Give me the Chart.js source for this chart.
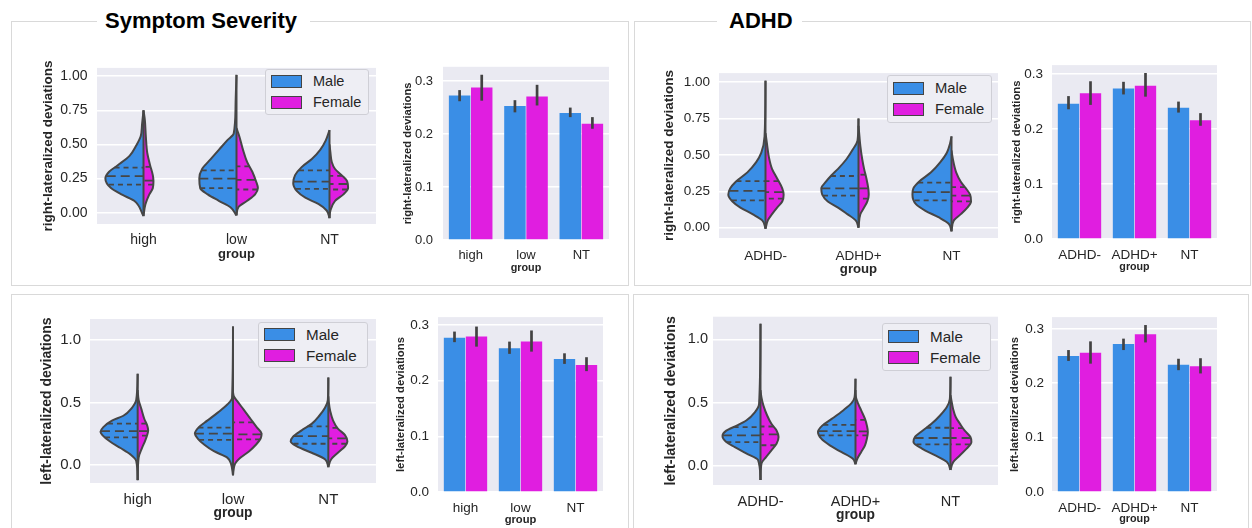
<!DOCTYPE html>
<html>
<head>
<meta charset="utf-8">
<script src="https://cdn.jsdelivr.net/npm/chart.js@4.4.1/dist/chart.umd.min.js"></script>
<style>
body { margin: 0; background: #fff; font-family: 'Liberation Sans', Arial, sans-serif; }
#page { position: relative; width: 1252px; height: 528px; overflow: hidden; background: #fff; }
.panel { position: absolute; border: 1px solid #d9d9d9; box-sizing: border-box; }
.ptitle { position: absolute; background: #fff; font-weight: bold; font-size: 22px; line-height: 22px; color: #000; box-sizing: border-box; }
.holder { position: absolute; }
.legend { position: absolute; box-sizing: border-box; background: #eeeef4; border: 1px solid #cfcfd6; border-radius: 3px; color: #262626; }
.patch { position: absolute; left: 5px; width: 31px; height: 13px; box-sizing: border-box; border: 1px solid #444; }
.ltext { position: absolute; left: 47px; height: 21px; line-height: 21px; white-space: nowrap; }
</style>
</head>
<body>
<div id="page">
  <div class="panel" style="left:11px;top:21px;width:618px;height:265px;"></div>
  <div class="panel" style="left:634px;top:21px;width:617px;height:265px;"></div>
  <div class="panel" style="left:11px;top:294px;width:618px;height:260px;"></div>
  <div class="panel" style="left:633px;top:294px;width:616px;height:260px;"></div>
  <div class="ptitle" style="left:97px;top:10px;width:213px;padding-left:8px;">Symptom Severity</div>
  <div class="ptitle" style="left:717px;top:10px;width:85px;padding-left:12px;">ADHD</div>
</div>
<script>
const sevGroups = ['high', 'low', 'NT'];
const adhdGroups = ['ADHD-', 'ADHD+', 'NT'];
const sexes = ['Male', 'Female'];

const violinTicksRight = [0, 0.25, 0.5, 0.75, 1.0];
const violinTicksLeft = [0, 0.5, 1.0];
const barTicks = [0, 0.1, 0.2, 0.3];

// violin outlines, [value, half width] from lower tip to upper tip
const sevRightMale = [
  [[-0.025,0],[0.087,0.1],[0.13,0.225],[0.18,0.35],[0.25,0.41],[0.3,0.37],[0.346,0.28],[0.416,0.15],[0.49,0.08],[0.56,0.03],[0.65,0.015],[0.75,0]],
  [[-0.02,0],[0.04,0.065],[0.087,0.19],[0.134,0.31],[0.18,0.39],[0.25,0.4],[0.32,0.37],[0.39,0.28],[0.46,0.19],[0.53,0.1],[0.58,0.03],[0.79,0.01],[1.01,0]],
  [[-0.04,0],[0.016,0.03],[0.064,0.12],[0.11,0.26],[0.158,0.35],[0.216,0.39],[0.275,0.37],[0.334,0.3],[0.393,0.19],[0.46,0.1],[0.53,0.04],[0.605,0]]
];
const sevRightFemale = [
  [[-0.025,0],[0.06,0.02],[0.13,0.06],[0.18,0.1],[0.23,0.107],[0.275,0.1],[0.35,0.07],[0.44,0.04],[0.56,0.025],[0.675,0.015],[0.75,0]],
  [[-0.02,0],[0.04,0.02],[0.087,0.115],[0.134,0.2],[0.18,0.23],[0.23,0.21],[0.3,0.17],[0.37,0.115],[0.46,0.07],[0.56,0.03],[0.6,0.01],[0.62,0]],
  [[-0.04,0],[0.016,0.01],[0.087,0.06],[0.134,0.15],[0.18,0.2],[0.23,0.19],[0.275,0.13],[0.32,0.06],[0.37,0.025],[0.44,0.01],[0.5,0]]
];
const sevRightMaleQuart = [[0.205,0.268,0.33],[0.18,0.25,0.31],[0.174,0.228,0.31]];
const sevRightFemaleQuart = [[0.205,0.235,0.336],[0.17,0.24,0.34],[0.17,0.21,0.27]];

const adhdRightMale = [
  [[-0.007,0],[0.05,0.035],[0.093,0.14],[0.138,0.27],[0.18,0.355],[0.227,0.4],[0.27,0.38],[0.316,0.32],[0.38,0.195],[0.45,0.1],[0.515,0.045],[0.627,0.01],[1.01,0]],
  [[0,0],[0.05,0.03],[0.093,0.12],[0.138,0.22],[0.18,0.33],[0.227,0.39],[0.27,0.4],[0.316,0.35],[0.36,0.29],[0.404,0.22],[0.47,0.13],[0.538,0.06],[0.6,0.01],[0.75,0]],
  [[-0.025,0],[0.027,0.03],[0.07,0.135],[0.116,0.28],[0.16,0.38],[0.227,0.42],[0.27,0.41],[0.316,0.35],[0.38,0.22],[0.45,0.12],[0.515,0.05],[0.58,0.015],[0.627,0]]
];
const adhdRightFemale = [
  [[-0.007,0],[0.05,0.025],[0.093,0.07],[0.138,0.125],[0.18,0.18],[0.227,0.195],[0.27,0.18],[0.338,0.125],[0.404,0.07],[0.49,0.035],[0.58,0.015],[0.65,0]],
  [[0,0],[0.093,0.02],[0.138,0.06],[0.18,0.095],[0.227,0.11],[0.27,0.105],[0.338,0.085],[0.404,0.06],[0.47,0.04],[0.56,0.02],[0.627,0.01],[0.7,0]],
  [[-0.025,0],[0.05,0.025],[0.093,0.1],[0.138,0.17],[0.18,0.21],[0.227,0.2],[0.27,0.155],[0.316,0.1],[0.38,0.05],[0.47,0.015],[0.53,0]]
];
const adhdRightMaleQuart = [[0.187,0.253,0.32],[0.22,0.27,0.355],[0.187,0.244,0.31]];
const adhdRightFemaleQuart = [[0.2,0.244,0.32],[0.2,0.27,0.364],[0.18,0.22,0.278]];

const sevLeftMale = [
  [[-0.124,0],[0.03,0.015],[0.083,0.077],[0.134,0.18],[0.186,0.29],[0.238,0.37],[0.264,0.39],[0.302,0.36],[0.354,0.27],[0.393,0.15],[0.457,0.06],[0.52,0.015],[0.73,0]],
  [[-0.085,0],[0.005,0.02],[0.057,0.06],[0.108,0.2],[0.16,0.3],[0.21,0.37],[0.25,0.4],[0.3,0.36],[0.354,0.27],[0.418,0.16],[0.483,0.06],[0.535,0.01],[1.11,0]],
  [[-0.02,0],[0.044,0.035],[0.096,0.175],[0.147,0.33],[0.186,0.395],[0.225,0.37],[0.276,0.28],[0.328,0.175],[0.393,0.095],[0.457,0.035],[0.52,0.005],[0.7,0]]
];
const sevLeftFemale = [
  [[-0.124,0],[0.057,0.01],[0.134,0.045],[0.186,0.075],[0.238,0.1],[0.276,0.11],[0.315,0.1],[0.367,0.07],[0.444,0.04],[0.52,0.01],[0.6,0]],
  [[-0.085,0],[0.005,0.02],[0.057,0.08],[0.108,0.17],[0.16,0.24],[0.21,0.29],[0.25,0.3],[0.3,0.25],[0.367,0.185],[0.444,0.11],[0.51,0.045],[0.548,0.01],[0.58,0]],
  [[-0.02,0],[0.044,0.03],[0.096,0.1],[0.147,0.175],[0.186,0.2],[0.238,0.175],[0.29,0.1],[0.354,0.05],[0.43,0.02],[0.5,0.005],[0.55,0]]
];
const sevLeftMaleQuart = [[0.22,0.27,0.33],[0.2,0.25,0.297],[0.168,0.23,0.307]];
const sevLeftFemaleQuart = [[0.233,0.27,0.33],[0.204,0.243,0.34],[0.168,0.212,0.295]];

const adhdLeftMale = [
  [[-0.11,0],[0.047,0.025],[0.1,0.15],[0.15,0.27],[0.19,0.36],[0.238,0.4],[0.28,0.36],[0.32,0.25],[0.36,0.15],[0.425,0.06],[0.49,0.015],[1.125,0]],
  [[0.015,0],[0.06,0.03],[0.112,0.15],[0.164,0.27],[0.217,0.36],[0.27,0.395],[0.32,0.35],[0.373,0.25],[0.44,0.13],[0.5,0.04],[0.543,0.01],[0.69,0]],
  [[-0.03,0],[0.034,0.04],[0.086,0.165],[0.138,0.3],[0.19,0.39],[0.23,0.375],[0.28,0.295],[0.334,0.2],[0.4,0.11],[0.465,0.04],[0.53,0.007],[0.705,0]]
];
const adhdLeftFemale = [
  [[-0.11,0],[0.02,0.01],[0.073,0.06],[0.125,0.115],[0.178,0.17],[0.23,0.19],[0.28,0.17],[0.334,0.115],[0.4,0.07],[0.48,0.03],[0.543,0.01],[0.6,0]],
  [[0.015,0],[0.06,0.02],[0.112,0.06],[0.164,0.1],[0.217,0.12],[0.27,0.13],[0.32,0.12],[0.373,0.1],[0.44,0.06],[0.49,0.03],[0.543,0.005],[0.6,0]],
  [[-0.03,0],[0.034,0.03],[0.086,0.1],[0.138,0.17],[0.19,0.22],[0.23,0.21],[0.28,0.15],[0.334,0.1],[0.386,0.056],[0.45,0.028],[0.517,0.01],[0.56,0]]
];
const adhdLeftMaleQuart = [[0.19,0.243,0.308],[0.243,0.277,0.326],[0.172,0.222,0.303]];
const adhdLeftFemaleQuart = [[0.165,0.25,0.313],[0.243,0.274,0.366],[0.172,0.222,0.3]];

// bar means with error bar ends
const sevRightMaleMean = [0.273, 0.253, 0.240];
const sevRightMaleLo = [0.262, 0.241, 0.232];
const sevRightMaleHi = [0.283, 0.264, 0.250];
const sevRightFemaleMean = [0.288, 0.271, 0.2195];
const sevRightFemaleLo = [0.263, 0.254, 0.210];
const sevRightFemaleHi = [0.312, 0.293, 0.232];

const adhdRightMaleMean = [0.246, 0.274, 0.239];
const adhdRightMaleLo = [0.236, 0.263, 0.230];
const adhdRightMaleHi = [0.260, 0.286, 0.250];
const adhdRightFemaleMean = [0.265, 0.279, 0.216];
const adhdRightFemaleLo = [0.244, 0.259, 0.206];
const adhdRightFemaleHi = [0.287, 0.302, 0.229];

const sevLeftMaleMean = [0.277, 0.258, 0.239];
const sevLeftMaleLo = [0.269, 0.248, 0.230];
const sevLeftMaleHi = [0.288, 0.270, 0.249];
const sevLeftFemaleMean = [0.279, 0.270, 0.228];
const sevLeftFemaleLo = [0.261, 0.252, 0.217];
const sevLeftFemaleHi = [0.297, 0.290, 0.242];

const adhdLeftMaleMean = [0.250, 0.272, 0.234];
const adhdLeftMaleLo = [0.241, 0.261, 0.224];
const adhdLeftMaleHi = [0.261, 0.282, 0.245];
const adhdLeftFemaleMean = [0.256, 0.290, 0.231];
const adhdLeftFemaleLo = [0.236, 0.275, 0.218];
const adhdLeftFemaleHi = [0.277, 0.307, 0.246];

const maleColor = '#3a8ee6';
const femaleColor = '#e01ee0';
const edge = '#464646';
const textColor = '#262626';

Chart.defaults.font.family = "'Liberation Sans', Arial, sans-serif";
Chart.defaults.color = textColor;

const page = document.getElementById('page');

const plotBg = {
  id: 'plotBg',
  beforeDraw(chart) {
    const { ctx, chartArea: a } = chart;
    ctx.save();
    ctx.fillStyle = '#eaeaf2';
    ctx.fillRect(a.left, a.top, a.right - a.left, a.bottom - a.top);
    ctx.restore();
  }
};

const errBars = {
  id: 'errBars',
  afterDatasetsDraw(chart) {
    const ctx = chart.ctx, y = chart.scales.y;
    ctx.save();
    ctx.strokeStyle = '#424242';
    ctx.lineWidth = 2.7;
    chart.data.datasets.forEach((ds, i) => {
      chart.getDatasetMeta(i).data.forEach((bar, j) => {
        ctx.beginPath();
        ctx.moveTo(bar.x, y.getPixelForValue(ds.errLo[j]));
        ctx.lineTo(bar.x, y.getPixelForValue(ds.errHi[j]));
        ctx.stroke();
      });
    });
    ctx.restore();
  }
};

function makeHolder(g) {
  const b = g.box;
  const yLh = g.yTitleSize * 1.2, xLh = g.xTitleSize * 1.2, tLh = g.tickSize * 1.2;
  const left = Math.floor(g.yTitleX - yLh / 2 - 2);
  const top = b.t - 12;
  const right = b.r + 12;
  const xH = Math.ceil(g.xTitleY + xLh / 2 + 2 - b.b);
  const width = right - left, height = b.b + xH - top;
  const div = document.createElement('div');
  div.className = 'holder';
  div.style.left = left + 'px';
  div.style.top = top + 'px';
  const cv = document.createElement('canvas');
  cv.width = width; cv.height = height;
  cv.style.width = width + 'px'; cv.style.height = height + 'px';
  div.appendChild(cv);
  page.appendChild(div);
  return {
    canvas: cv,
    yW: b.l - left,
    xH: xH,
    yTitlePad: g.yTitleX - left - yLh / 2,
    xTitlePad: b.b + xH - g.xTitleY - xLh / 2,
    xTickPad: Math.max(0, g.xTickY - b.b - tLh * 0.9)
  };
}

function yAxis(h, g, ticks, digits, title) {
  return {
    type: 'linear', position: 'left', min: g.yMin, max: g.yMax,
    afterBuildTicks: s => { s.ticks = ticks.map(v => ({ value: v })); },
    afterFit: s => { s.width = h.yW; },
    grid: { color: '#ffffff', lineWidth: 1.5, drawTicks: false },
    border: { display: false },
    ticks: { padding: g.yTickPad, color: textColor, font: { size: g.tickSize }, callback: v => v.toFixed(digits) },
    title: { display: true, text: title, color: textColor, font: { size: g.yTitleSize, weight: 'bold' }, padding: { top: h.yTitlePad, bottom: 0 } }
  };
}

function xTitle(h, g) {
  return { display: true, text: 'group', color: textColor, font: { size: g.xTitleSize, weight: 'bold' }, padding: { top: 0, bottom: h.xTitlePad } };
}

function widthAt(prof, v) {
  for (let i = 1; i < prof.length; i++) {
    const [y0, w0] = prof[i - 1], [y1, w1] = prof[i];
    if (v >= y0 && v <= y1) return w0 + (w1 - w0) * (v - y0) / (y1 - y0);
  }
  return 0;
}

function violinSets(maleProf, femaleProf, maleQ, femaleQ) {
  const sets = [];
  [[maleProf, maleQ, -1, maleColor], [femaleProf, femaleQ, 1, femaleColor]].forEach(([profs, qs, side, color]) => {
    profs.forEach((prof, g) => {
      sets.push({
        data: prof.map(([v, w]) => ({ x: g + side * w, y: v })),
        fill: 'shape', backgroundColor: color, borderColor: edge, borderWidth: 2,
        cubicInterpolationMode: 'monotone', pointRadius: 0, order: 2
      });
      qs[g].forEach((q, k) => {
        const w = widthAt(prof, q);
        sets.push({
          data: [{ x: g + side * w, y: q }, { x: g, y: q }],
          borderColor: edge, borderWidth: 1.8, borderDash: k === 1 ? [9, 5] : [5, 4],
          pointRadius: 0, fill: false, order: 1
        });
      });
    });
  });
  maleProf.forEach((prof, g) => {
    const f = femaleProf[g];
    const lo = Math.min(prof[0][0], f[0][0]);
    const hi = Math.max(prof[prof.length - 1][0], f[f.length - 1][0]);
    sets.push({ data: [{ x: g, y: lo }, { x: g, y: hi }], borderColor: edge, borderWidth: 2, pointRadius: 0, fill: false, order: 1 });
  });
  return sets;
}

function addLegend(L) {
  const box = document.createElement('div');
  box.className = 'legend';
  Object.assign(box.style, { left: L.l + 'px', top: L.t + 'px', width: L.w + 'px', height: L.h + 'px', fontSize: L.size + 'px' });
  const off = (L.h - 34) / 2;
  sexes.forEach((name, i) => {
    const p = document.createElement('div');
    p.className = 'patch';
    p.style.top = (off + i * 21 - 1) + 'px';
    p.style.background = i ? femaleColor : maleColor;
    const t = document.createElement('div');
    t.className = 'ltext';
    t.style.top = (off + i * 21 - 5) + 'px';
    t.textContent = name;
    box.appendChild(p);
    box.appendChild(t);
  });
  page.appendChild(box);
}

function violinChart(g, groups, maleProf, femaleProf, maleQ, femaleQ, ticks, digits, title) {
  const h = makeHolder(g);
  new Chart(h.canvas, {
    type: 'line',
    data: { datasets: violinSets(maleProf, femaleProf, maleQ, femaleQ) },
    options: {
      indexAxis: 'y', responsive: false, animation: false, events: [],
      layout: { padding: { top: 12, right: 12, left: 0, bottom: 0 } },
      plugins: { legend: { display: false }, tooltip: { enabled: false } },
      scales: {
        x: {
          type: 'linear', position: 'bottom', min: -0.5, max: 2.5,
          afterBuildTicks: s => { s.ticks = groups.map((_, i) => ({ value: i })); },
          afterFit: s => { s.height = h.xH; },
          grid: { display: false }, border: { display: false },
          ticks: { padding: h.xTickPad, color: textColor, font: { size: g.tickSize }, callback: v => groups[v] },
          title: xTitle(h, g)
        },
        y: yAxis(h, g, ticks, digits, title)
      }
    },
    plugins: [plotBg]
  });
  addLegend(g.legend);
}

function barChart(g, groups, mMean, mLo, mHi, fMean, fLo, fHi, title) {
  const h = makeHolder(g);
  new Chart(h.canvas, {
    type: 'bar',
    data: {
      labels: groups,
      datasets: [
        { label: sexes[0], data: mMean, errLo: mLo, errHi: mHi, backgroundColor: maleColor },
        { label: sexes[1], data: fMean, errLo: fLo, errHi: fHi, backgroundColor: femaleColor }
      ]
    },
    options: {
      responsive: false, animation: false, events: [],
      layout: { padding: { top: 12, right: 12, left: 0, bottom: 0 } },
      datasets: { bar: { categoryPercentage: 0.8, barPercentage: 0.97 } },
      plugins: { legend: { display: false }, tooltip: { enabled: false } },
      scales: {
        x: {
          type: 'category', position: 'bottom',
          afterFit: s => { s.height = h.xH; },
          grid: { display: false }, border: { display: false },
          ticks: { padding: h.xTickPad, color: textColor, font: { size: g.tickSize } },
          title: xTitle(h, g)
        },
        y: yAxis(h, g, barTicks, 1, title)
      }
    },
    plugins: [plotBg, errBars]
  });
}

const rightTitle = 'right-lateralized deviations';
const leftTitle = 'left-lateralized deviations';

violinChart({ box: { l: 97, t: 62, r: 376, b: 224 }, yMin: -0.083, yMax: 1.061,
  yTitleX: 48, yTitleSize: 13.5, tickSize: 14, yTickPad: 9.5, xTickY: 239, xTitleY: 254.5, xTitleSize: 13,
  legend: { l: 265, t: 69, w: 104, h: 46, size: 14.5 } },
  sevGroups, sevRightMale, sevRightFemale, sevRightMaleQuart, sevRightFemaleQuart, violinTicksRight, 2, rightTitle);

barChart({ box: { l: 443, t: 61, r: 609, b: 240 }, yMin: 0, yMax: 0.327,
  yTitleX: 407.5, yTitleSize: 11.2, tickSize: 13, yTickPad: 10, xTickY: 252.5, xTitleY: 268.3, xTitleSize: 10.8 },
  sevGroups, sevRightMaleMean, sevRightMaleLo, sevRightMaleHi, sevRightFemaleMean, sevRightFemaleLo, sevRightFemaleHi, rightTitle);

violinChart({ box: { l: 719, t: 68, r: 998, b: 238 }, yMin: -0.071, yMax: 1.062,
  yTitleX: 669, yTitleSize: 13.5, tickSize: 13.5, yTickPad: 9, xTickY: 254.5, xTitleY: 269.4, xTitleSize: 13.2,
  legend: { l: 887, t: 75, w: 105, h: 48, size: 14.8 } },
  adhdGroups, adhdRightMale, adhdRightFemale, adhdRightMaleQuart, adhdRightFemaleQuart, violinTicksRight, 2, rightTitle);

barChart({ box: { l: 1052, t: 60, r: 1217, b: 239 }, yMin: 0, yMax: 0.3164,
  yTitleX: 1016.5, yTitleSize: 11.3, tickSize: 13.5, yTickPad: 9, xTickY: 252, xTitleY: 267.3, xTitleSize: 10.7 },
  adhdGroups, adhdRightMaleMean, adhdRightMaleLo, adhdRightMaleHi, adhdRightFemaleMean, adhdRightFemaleLo, adhdRightFemaleHi, rightTitle);

violinChart({ box: { l: 90, t: 313, r: 376, b: 483 }, yMin: -0.147, yMax: 1.17,
  yTitleX: 47.5, yTitleSize: 14, tickSize: 15, yTickPad: 9, xTickY: 497, xTitleY: 513, xTitleSize: 13.8,
  legend: { l: 258, t: 322, w: 110, h: 46, size: 15.2 } },
  sevGroups, sevLeftMale, sevLeftFemale, sevLeftMaleQuart, sevLeftFemaleQuart, violinTicksLeft, 1, leftTitle);

barChart({ box: { l: 438, t: 312, r: 603, b: 492 }, yMin: 0, yMax: 0.314,
  yTitleX: 401.3, yTitleSize: 11.3, tickSize: 13.5, yTickPad: 9, xTickY: 505.6, xTitleY: 520, xTitleSize: 11.2 },
  sevGroups, sevLeftMaleMean, sevLeftMaleLo, sevLeftMaleHi, sevLeftFemaleMean, sevLeftFemaleLo, sevLeftFemaleHi, leftTitle);

violinChart({ box: { l: 713, t: 315, r: 998, b: 485 }, yMin: -0.149, yMax: 1.18,
  yTitleX: 671, yTitleSize: 14.2, tickSize: 14.5, yTickPad: 5, xTickY: 501, xTitleY: 515, xTitleSize: 13.8,
  legend: { l: 882, t: 323, w: 109, h: 48, size: 15.2 } },
  adhdGroups, adhdLeftMale, adhdLeftFemale, adhdLeftMaleQuart, adhdLeftFemaleQuart, violinTicksLeft, 1, leftTitle);

barChart({ box: { l: 1052, t: 313, r: 1217, b: 492 }, yMin: 0, yMax: 0.3216,
  yTitleX: 1015, yTitleSize: 11.3, tickSize: 13.5, yTickPad: 8, xTickY: 506.3, xTitleY: 518.8, xTitleSize: 10.8 },
  adhdGroups, adhdLeftMaleMean, adhdLeftMaleLo, adhdLeftMaleHi, adhdLeftFemaleMean, adhdLeftFemaleLo, adhdLeftFemaleHi, leftTitle);
</script>
</body>
</html>
